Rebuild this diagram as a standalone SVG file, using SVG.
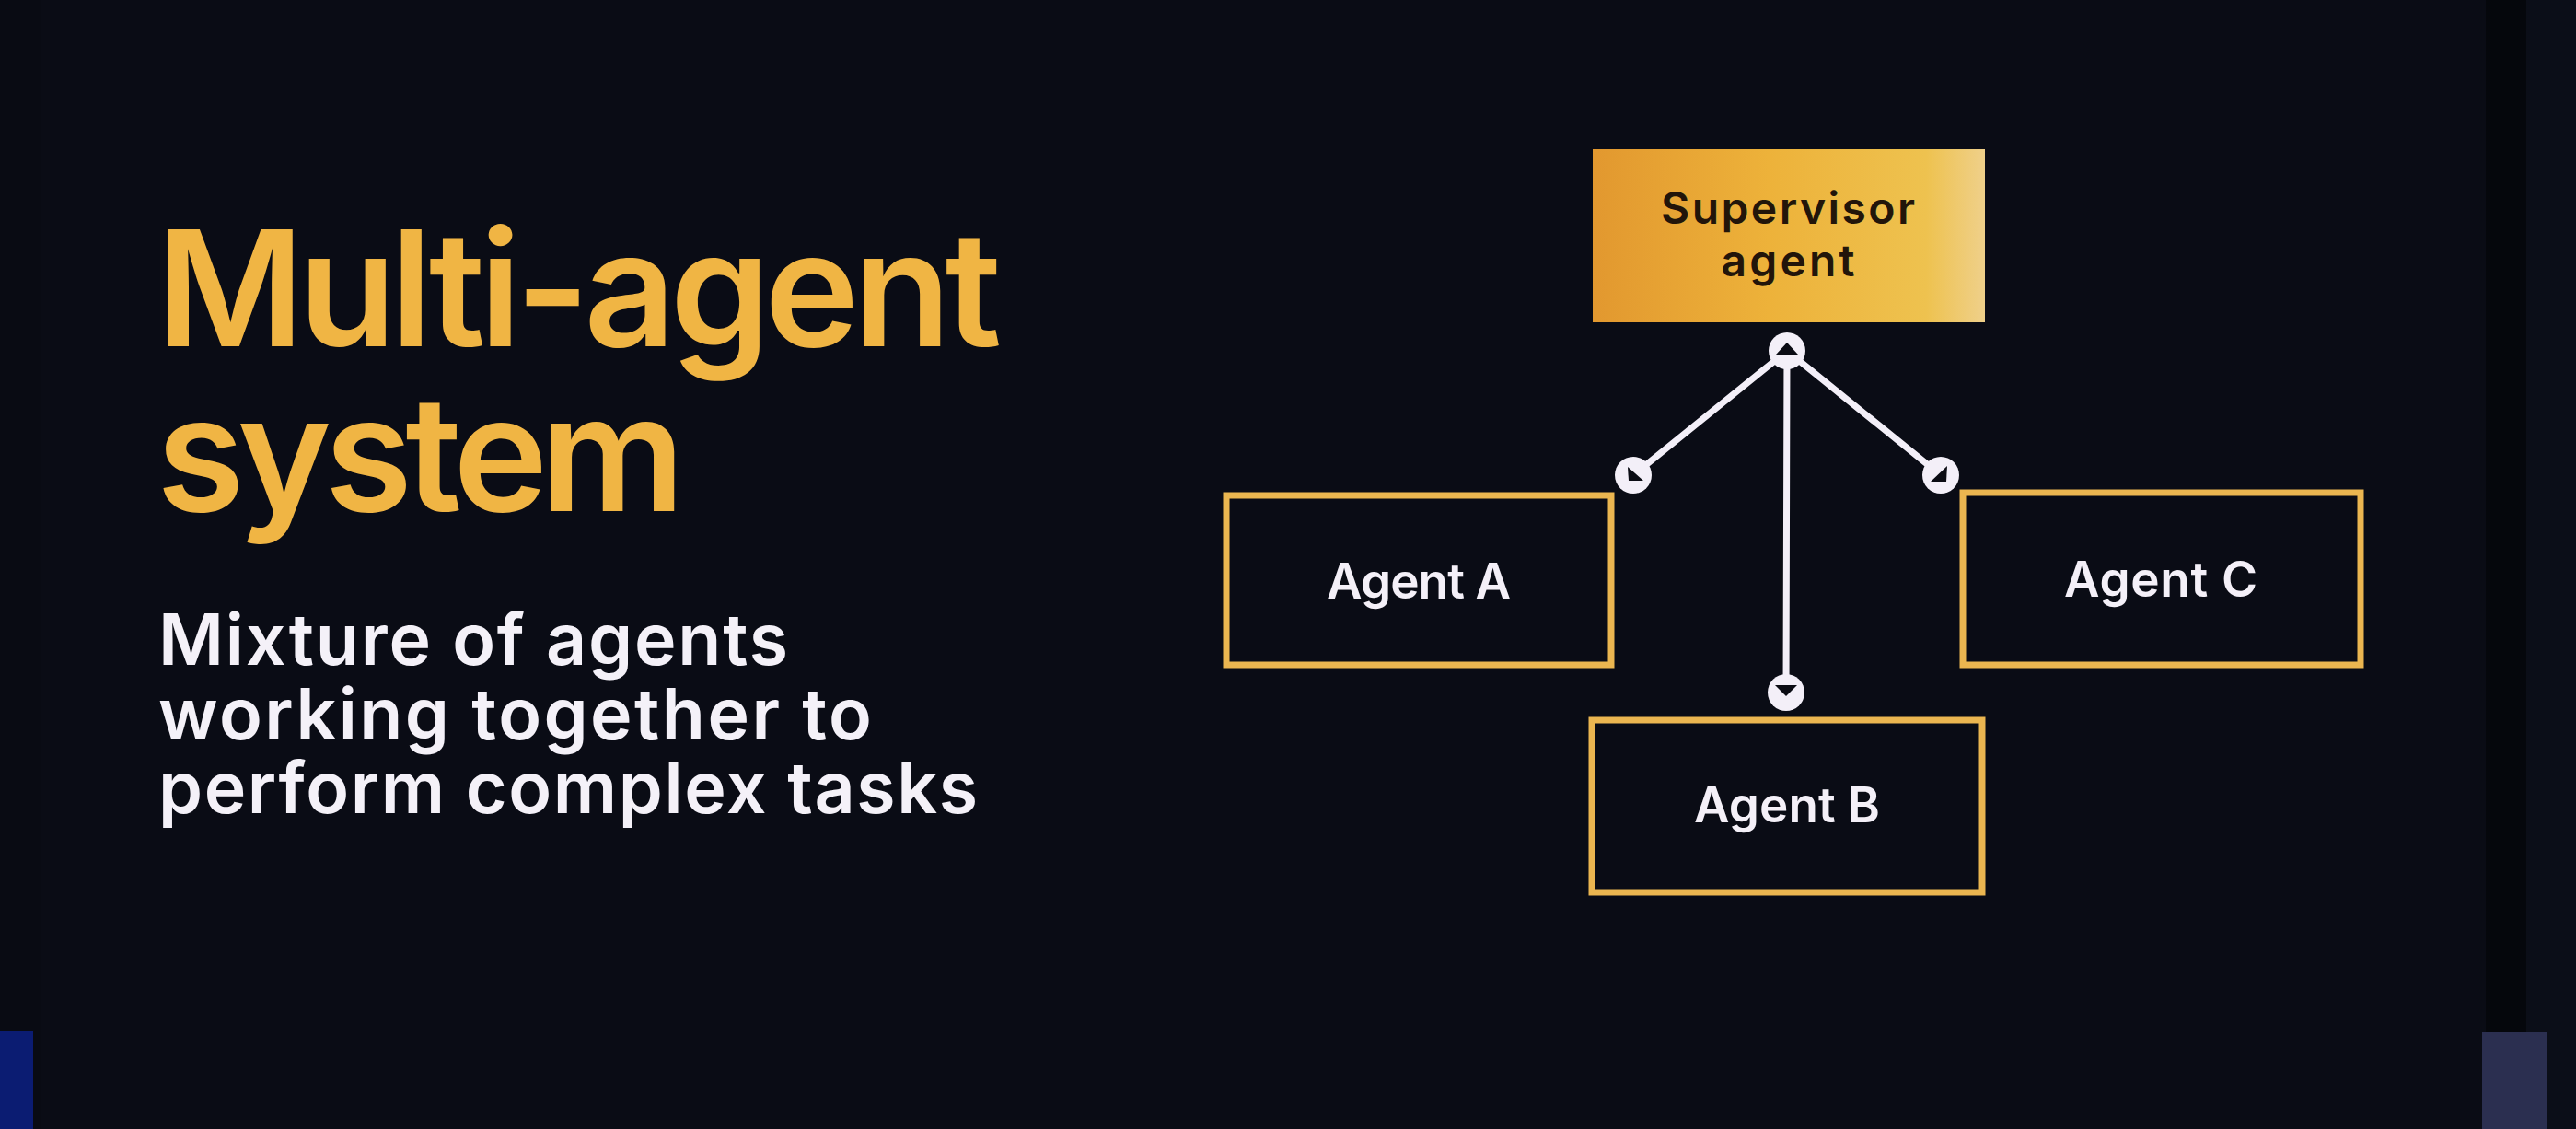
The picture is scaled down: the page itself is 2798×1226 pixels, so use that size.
<svg xmlns="http://www.w3.org/2000/svg" width="2798" height="1226" viewBox="0 0 2798 1226">
  <style>
    .title { font-family: Inter, "Noto Sans", "Liberation Sans", sans-serif; font-weight: 600; font-size: 174px; fill: #f0b544; }
    .sub { font-family: Inter, "Noto Sans", "Liberation Sans", sans-serif; font-weight: 600; font-size: 77px; fill: #f4f1f8; }
    .box { fill: #0a0c15; stroke: #ebb650; stroke-width: 7; }
    .label { font-family: Inter, "Noto Sans", "Liberation Sans", sans-serif; font-weight: 600; font-size: 53px; fill: #f4f0f8; text-anchor: middle; }
    .sup-label { font-family: Inter, "Noto Sans", "Liberation Sans", sans-serif; font-weight: 600; font-size: 48px; fill: #22150a; text-anchor: middle; }
    .wire { stroke: #f3eff8; stroke-width: 7; stroke-linecap: round; fill: none; }
    .knob { fill: #f3eff8; }
    .tip { fill: #0b0c14; }
  </style>
  <defs>
    <linearGradient id="supFill" x1="0" y1="0" x2="1" y2="0">
      <stop offset="0" stop-color="#e2982f"/>
      <stop offset="0.45" stop-color="#edb23a"/>
      <stop offset="0.85" stop-color="#eec24f"/>
      <stop offset="1" stop-color="#efd08a"/>
    </linearGradient>
  </defs>

  <!-- backdrop -->
  <rect x="0" y="0" width="2798" height="1226" fill="#0a0c15"/>
  <rect x="0" y="0" width="44" height="1226" fill="#090b13"/>
  <rect x="2700" y="0" width="44" height="1226" fill="#05070c"/>
  <rect x="2744" y="0" width="54" height="1226" fill="#0b0e18"/>
  <rect x="0" y="1120" width="36" height="106" fill="#0b1c72"/>
  <rect x="2696" y="1121" width="70" height="105" fill="#2b2f50"/>

  <!-- heading -->
  <text class="title" x="170" y="376" textLength="918" lengthAdjust="spacing">Multi-agent</text>
  <text class="title" x="170" y="555" textLength="574" lengthAdjust="spacing">system</text>
  <text class="sub" x="172" y="722" textLength="684" lengthAdjust="spacing">Mixture of agents</text>
  <text class="sub" x="172" y="803" textLength="775" lengthAdjust="spacing">working together to</text>
  <text class="sub" x="172" y="883" textLength="890" lengthAdjust="spacing">perform complex tasks</text>

  <!-- links from the supervisor to each agent -->
  <g id="connectors">
    <line class="wire" x1="1941" y1="381" x2="1774" y2="516"/>
    <line class="wire" x1="1941" y1="381" x2="2108" y2="516"/>
    <line class="wire" x1="1941" y1="381" x2="1940" y2="752"/>
    <circle class="knob" cx="1941" cy="381" r="20"/>
    <polygon class="tip" points="1941,372 1929,385 1953,385"/>
    <circle class="knob" cx="1774" cy="516" r="20"/>
    <polygon class="tip" points="1768,507 1769,522 1785,522"/>
    <circle class="knob" cx="2108" cy="516" r="20"/>
    <polygon class="tip" points="2115,506 2097,523 2114,523"/>
    <circle class="knob" cx="1940" cy="752" r="20"/>
    <polygon class="tip" points="1928,744 1952,744 1940,756"/>
  </g>

  <g id="supervisor">
    <rect x="1730" y="162" width="426" height="188" fill="url(#supFill)"/>
    <text class="sup-label" x="1942" y="243" textLength="276" lengthAdjust="spacing">Supervisor</text>
    <text class="sup-label" x="1942" y="300" textLength="145" lengthAdjust="spacing">agent</text>
  </g>

  <g id="agent-a">
    <rect class="box" x="1332" y="538" width="418" height="184"/>
    <text class="label" x="1541" y="650" textLength="200" lengthAdjust="spacing">Agent A</text>
  </g>

  <g id="agent-c">
    <rect class="box" x="2132" y="535" width="432" height="187"/>
    <text class="label" x="2347" y="648" textLength="210" lengthAdjust="spacing">Agent C</text>
  </g>

  <g id="agent-b">
    <rect class="box" x="1729" y="782" width="424" height="187"/>
    <text class="label" x="1941" y="893" textLength="202" lengthAdjust="spacing">Agent B</text>
  </g>
</svg>
